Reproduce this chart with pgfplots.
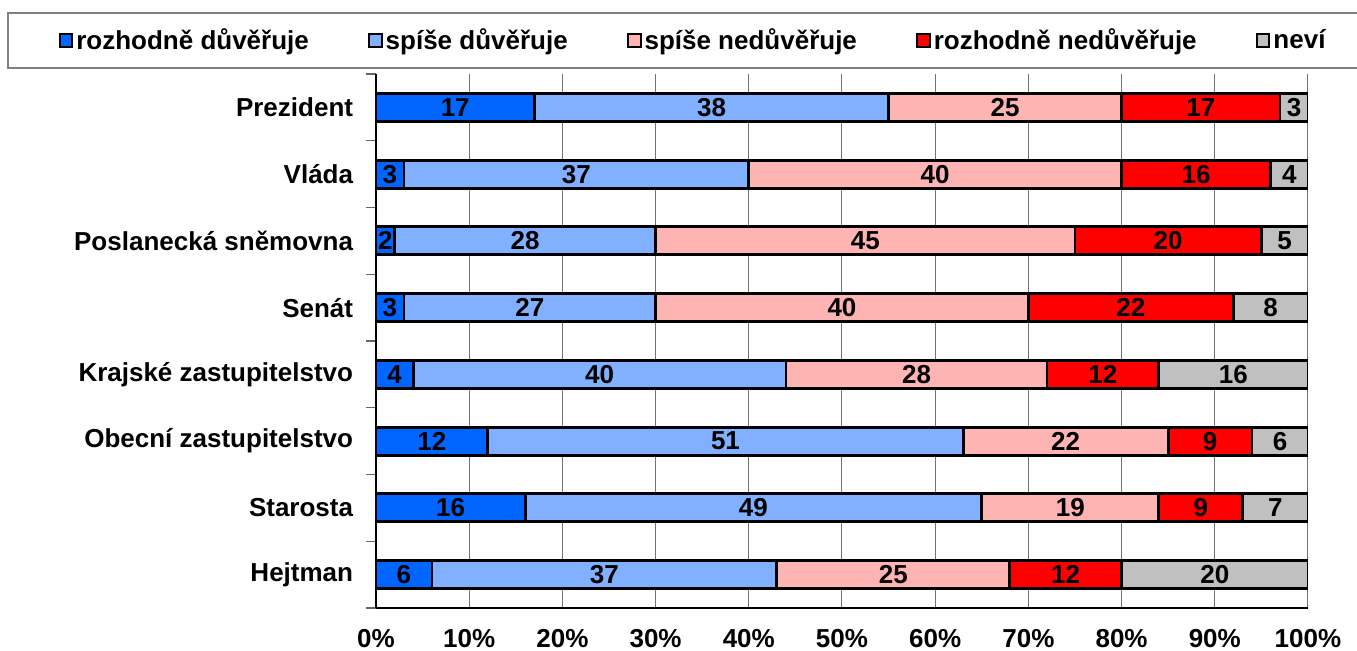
\documentclass[border=0pt]{standalone}
\usepackage{fontspec}
\setmainfont{Liberation Sans}
\usepackage{pgfplots}
\usepackage{pgfplotstable}
\pgfplotsset{compat=1.18}
\definecolor{cA}{RGB}{0,102,255}
\definecolor{cB}{RGB}{128,176,255}
\definecolor{cC}{RGB}{255,180,180}
\definecolor{cD}{RGB}{255,0,0}
\definecolor{cE}{RGB}{192,192,192}
\pgfplotstableread{
idx a b c d e
0 17 38 25 17 3
1 3 37 40 16 4
2 2 28 45 20 5
3 3 27 40 22 8
4 4 40 28 12 16
5 12 51 22 9 6
6 16 49 19 9 7
7 6 37 25 12 20
}\data
\newcommand\fnt{\fontsize{13}{15}\selectfont\bfseries}
\pgfplotsset{common/.style={
  at={(0pt,0pt)}, anchor=south west,
  scale only axis, width=466pt, height=267pt,
  xmin=0, xmax=100, ymin=-0.5, ymax=7.5, y dir=reverse,
  /pgf/number format/assume math mode=true}}
\begin{document}
\fnt
\begin{tikzpicture}
\path[use as bounding box] (-188pt,-21pt) rectangle (490.5pt,304pt);
\begin{axis}[
  common,
  xbar stacked, bar width=14pt,
  axis x line*=bottom, axis y line*=left,
  axis line style={line width=0.7pt, black},
  xtick={0,10,...,100},
  xticklabel={\pgfmathprintnumber{\tick}\%},
  xtick style={draw=none},
  xmajorgrids, major grid style={draw=black!55, line width=0.5pt},
  ytick={0,...,7},
  yticklabels={Prezident,Vláda,Poslanecká sněmovna,Senát,Krajské zastupitelstvo,Obecní zastupitelstvo,Starosta,Hejtman},
  major y tick style={draw=none},
  minor ytick={-0.5,0.5,...,7.5},
  minor tick length=5pt, tick align=outside,
  minor y tick style={draw=black!60, line width=0.6pt},
  tick label style={font=\fnt},
  yticklabel style={inner sep=0pt, xshift=-7pt},
  xticklabel style={inner sep=0pt, yshift=-6pt},
  legend columns=5,
  legend style={draw=none, fill=none, at={(0.3407,1.0627)}, anchor=center,
    font=\fnt,
    nodes={inner sep=1.5pt},
    /tikz/every even column/.append style={column sep=28pt}},
  legend image code/.code={\draw[#1, draw=black, line width=1pt] (0pt,-3.2pt) rectangle (6.4pt,3.2pt);},
]
\addplot[fill=cA, draw=black, line width=1.4pt] table[x=a, y=idx] {\data};
\addplot[fill=cB, draw=black, line width=1.4pt] table[x=b, y=idx] {\data};
\addplot[fill=cC, draw=black, line width=1.4pt] table[x=c, y=idx] {\data};
\addplot[fill=cD, draw=black, line width=1.4pt] table[x=d, y=idx] {\data};
\addplot[fill=cE, draw=black, line width=1.4pt] table[x=e, y=idx] {\data};
\legend{rozhodně důvěřuje, spíše důvěřuje, spíše nedůvěřuje, rozhodně nedůvěřuje, neví}
\end{axis}
\begin{axis}[
  common, hide axis,
  point meta=explicit,
  nodes near coords,
  every node near coord/.style={anchor=center, inner sep=0pt, font=\fnt, text=black},
]
\addplot[draw=none, mark=none, nodes near coords] table[x expr={\thisrow{a}/2}, y=idx, meta=a] {\data};
\addplot[draw=none, mark=none, nodes near coords] table[x expr={\thisrow{a}+\thisrow{b}/2}, y=idx, meta=b] {\data};
\addplot[draw=none, mark=none, nodes near coords] table[x expr={\thisrow{a}+\thisrow{b}+\thisrow{c}/2}, y=idx, meta=c] {\data};
\addplot[draw=none, mark=none, nodes near coords] table[x expr={\thisrow{a}+\thisrow{b}+\thisrow{c}+\thisrow{d}/2}, y=idx, meta=d] {\data};
\addplot[draw=none, mark=none, nodes near coords] table[x expr={\thisrow{a}+\thisrow{b}+\thisrow{c}+\thisrow{d}+\thisrow{e}/2}, y=idx, meta=e] {\data};
\end{axis}
\draw[black!50, line width=0.7pt] (-184pt,297.5pt) rectangle (495pt,270pt);
\end{tikzpicture}
\end{document}
